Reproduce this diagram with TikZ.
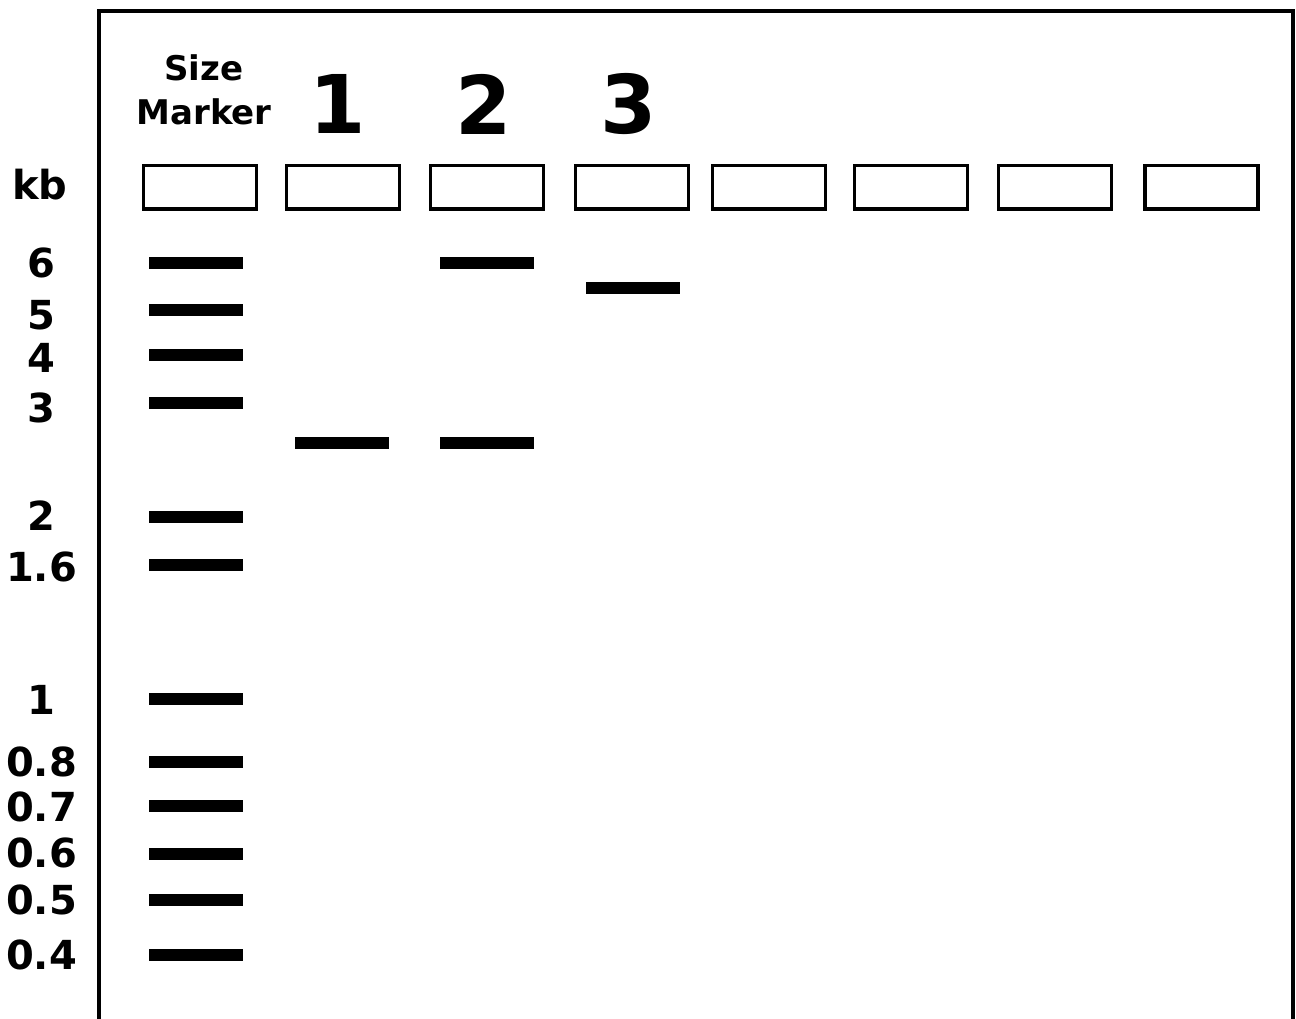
\documentclass[tikz,border=0pt]{standalone}
\usepackage{fontspec}
\setmainfont{DejaVu Sans}
\begin{document}
\begin{tikzpicture}[x=1pt,y=-1pt,
  well/.style={draw=black,line width=3.5pt,minimum width=113pt,minimum height=43.5pt,inner sep=0pt},
  band/.style={fill=black,draw=none,minimum width=94pt,minimum height=12pt,inner sep=0pt},
  kblabel/.style={inner sep=0pt,font=\bfseries\fontsize{40}{40}\selectfont},
  lanelabel/.style={inner sep=0pt,font=\bfseries\fontsize{81}{81}\selectfont},
  smlabel/.style={inner sep=0pt,font=\bfseries\fontsize{34}{34}\selectfont}]
\useasboundingbox (0,0) rectangle (1296,1018);
% frame
\coordinate (fbl) at (99,1030);
\coordinate (ftl) at (99,11);
\coordinate (ftr) at (1293,11);
\coordinate (fbr) at (1293,1030);
\draw[line width=4pt] (fbl) -- (ftl) -- (ftr) -- (fbr);
% headings
\node[smlabel] (size) at (204,68) {Size};
\node[smlabel] (marker) at (204,112) {Marker};
\node[lanelabel] (l1) at (338,104) {1};
\node[lanelabel] (l2) at (484,104) {2};
\node[lanelabel] (l3) at (629,104) {3};
\node[kblabel] (kb) at (40,185) {kb};
% wells
\node[well] (w1) at (200,187) {};
\node[well] (w2) at (343,187) {};
\node[well] (w3) at (487,187) {};
\node[well] (w4) at (632,187) {};
\node[well] (w5) at (769,187) {};
\node[well] (w6) at (911,187) {};
\node[well] (w7) at (1055,187) {};
\node[well] (w8) at (1201.5,187) {};
% marker bands and labels
\foreach \n/\by/\ly/\t in {a/263/263/6, b/310/315/5, c/355/358/4, d/403/408/3, e/517/516/2, f/565/567/1.6, g/699/700/1, h/762/762/0.8, i/806/807/0.7, j/854/853/0.6, k/900/900/0.5, l/955/955/0.4}{
  \node[band] (m\n) at (196,\by) {};
  \node[kblabel] (t\n) at (41.5,\ly) {\t};
}
% sample bands
\node[band] (s1a) at (342,443) {};
\node[band] (s2a) at (486.5,263) {};
\node[band] (s2b) at (486.5,443) {};
\node[band] (s3a) at (633,288) {};
\end{tikzpicture}
\end{document}
